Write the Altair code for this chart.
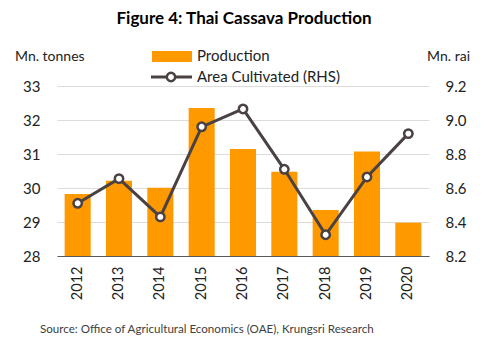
import altair as alt
import pandas as pd

years = ["2012", "2013", "2014", "2015", "2016", "2017", "2018", "2019", "2020"]
production = [29.82, 30.21, 30.01, 32.35, 31.15, 30.48, 29.35, 31.07, 28.98]
area = [8.51, 8.655, 8.43, 8.96, 9.065, 8.71, 8.325, 8.665, 8.92]

df = pd.DataFrame({"year": years, "production": production, "area": area})

FONT = "Lato"
ORANGE = "#FF9900"
LINE = "#4A4242"

x_enc = alt.X("year:N", sort=years, title=None,
              scale=alt.Scale(paddingInner=0.37, paddingOuter=0.185),
              axis=alt.Axis(labelAngle=-90, labelFontSize=14.5, labelFont=FONT, labelColor="#222222",
                            labelPadding=10, ticks=False, domainColor="#595959", domainWidth=1.2,
                            grid=False))

bars = alt.Chart(df).mark_bar(color=ORANGE).encode(
    x=x_enc,
    y=alt.Y("production:Q", title=None,
            scale=alt.Scale(domain=[28, 33], zero=False, nice=False),
            axis=alt.Axis(orient="left", values=[28, 29, 30, 31, 32, 33], labelFontSize=15,
                          labelFont=FONT, labelColor="#222222", ticks=False, domain=False,
                          labelPadding=17, gridColor="#DCDCDC", gridWidth=1)),
    y2=alt.datum(28),
)

line = alt.Chart(df).mark_line(
    color=LINE, strokeWidth=3,
    point=alt.OverlayMarkDef(filled=True, fill="white", stroke=LINE, strokeWidth=2.5, size=70),
).encode(
    x=alt.X("year:N", sort=years),
    y=alt.Y("area:Q", title=None,
            scale=alt.Scale(domain=[8.2, 9.2], zero=False, nice=False),
            axis=alt.Axis(orient="right", values=[8.2, 8.4, 8.6, 8.8, 9.0, 9.2], format=".1f",
                          labelFontSize=15, labelFont=FONT, labelColor="#222222", ticks=False,
                          domain=False, grid=False, labelPadding=16)),
)

def txt(s, x, y, size=14, weight="normal", align="left", color="#222222"):
    return alt.Chart(pd.DataFrame({"t": [s]})).mark_text(
        font=FONT, fontSize=size, fontWeight=weight, align=align, baseline="middle", color=color
    ).encode(text="t:N", x=alt.value(x), y=alt.value(y))

OX, OY = 57, 86
title = txt("Figure 4: Thai Cassava Production", 244 - OX, 19 - OY, size=17, weight="bold", align="center", color="#000000")
ylab_l = txt("Mn. tonnes", 15 - OX, 57 - OY, size=14)
ylab_r = txt("Mn. rai", 470 - OX, 57 - OY, size=14, align="right")
leg1 = txt("Production", 197 - OX, 56 - OY, size=15)
leg2 = txt("Area Cultivated (RHS)", 197 - OX, 77 - OY, size=15)
source = txt("Source: Office of Agricultural Economics (OAE), Krungsri Research", 40 - OX, 330 - OY, size=11.6, color="#404040")

swatch = alt.Chart(pd.DataFrame({"a": [0]})).mark_rect(color=ORANGE).encode(
    x=alt.value(152 - OX), x2=alt.value(192 - OX), y=alt.value(51 - OY), y2=alt.value(62 - OY))
leg_line = alt.Chart(pd.DataFrame({"a": [0]})).mark_rule(color=LINE, strokeWidth=3).encode(
    x=alt.value(151 - OX), x2=alt.value(192 - OX), y=alt.value(77 - OY))
leg_pt = alt.Chart(pd.DataFrame({"a": [0]})).mark_point(
    filled=True, fill="white", stroke=LINE, strokeWidth=2.5, size=70, opacity=1).encode(
    x=alt.value(171 - OX), y=alt.value(77 - OY))

chart = alt.layer(
    bars, line, title, ylab_l, ylab_r, leg1, leg2, source, swatch, leg_line, leg_pt
).resolve_scale(y="independent").properties(
    width=372, height=170,
    autosize=alt.AutoSizeParams(type="none"),
    padding={"left": OX, "top": OY, "right": 57, "bottom": 89},
    background="white",
).configure_view(stroke=None)

chart.save("out.html", embed_options={"renderer": "svg", "actions": False})
